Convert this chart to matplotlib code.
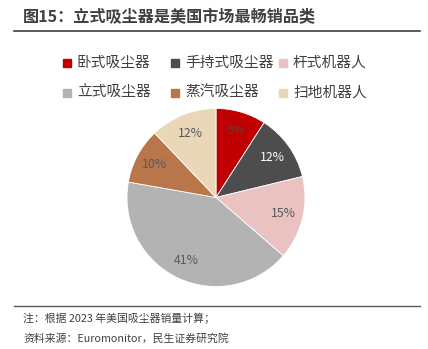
import matplotlib.pyplot as plt
from matplotlib.patches import Rectangle
from matplotlib.lines import Line2D
import numpy as np

plt.rcParams['font.family'] = ['Noto Sans CJK SC', 'DejaVu Sans']

labels = ["卧式吸尘器", "手持式吸尘器", "杆式机器人", "立式吸尘器", "蒸汽吸尘器", "扫地机器人"]
shares = [9, 12, 15, 41, 10, 12]
colors = ["#C00000", "#4D4D4F", "#EBC2C2", "#B3B3B3", "#B8764A", "#EAD7B7"]
pct_colors = ["#6A3A3A", "#FFFFFF", "#595959", "#595959", "#595959", "#595959"]

W, H = 428, 349
fig = plt.figure(figsize=(W / 100, H / 100), dpi=100)

def fx(px):
    return px / W

def fy(py):
    return 1 - py / H

# title and rules
fig.text(fx(23), fy(17), "图15：立式吸尘器是美国市场最畅销品类", fontsize=11.6,
         fontweight="bold", color="#404040", va="center", ha="left")
fig.add_artist(Line2D([fx(14), fx(420)], [fy(31), fy(31)], color="#404040", lw=1.2))
fig.add_artist(Line2D([fx(14), fx(420)], [fy(306), fy(306)], color="#595959", lw=1.0))

# footnotes
fig.text(fx(23), fy(318), "注：根据 2023 年美国吸尘器销量计算；", fontsize=7.8,
         color="#404040", va="center", ha="left")
fig.text(fx(23), fy(338), "资料来源：Euromonitor，民生证券研究院", fontsize=7.8,
         color="#404040", va="center", ha="left")

# legend, two rows of three
leg_x = [67, 175, 283]
leg_y = [63, 93]
for i, (lab, c) in enumerate(zip(labels, colors)):
    x = leg_x[i % 3]
    y = leg_y[i // 3]
    fig.add_artist(Rectangle((fx(x - 4), fy(y + 4)), 8 / W, 8 / H, color=c,
                             transform=fig.transFigure))
    fig.text(fx(x + 10), fy(y), lab, fontsize=10.6, color="#404040",
             va="center", ha="left")

# pie
cx, cy, r = 216, 197.5, 89
ax = fig.add_axes([fx(cx - r), fy(cy + r), 2 * r / W, 2 * r / H])
ax.pie(shares, colors=colors, startangle=90, counterclock=False,
       radius=1, wedgeprops=dict(edgecolor="white", linewidth=0.6))
total = sum(shares)
ang = 90.0
for s, tc in zip(shares, pct_colors):
    mid = ang - s / total * 360 / 2
    ang -= s / total * 360
    rr = 0.78
    ax.text(rr * np.cos(np.radians(mid)), rr * np.sin(np.radians(mid)), f"{s}%",
            ha="center", va="center", fontsize=8.8, color=tc)
ax.set_xlim(-1, 1)
ax.set_ylim(-1, 1)
ax.set_aspect("equal")
ax.axis("off")

fig.savefig("out.png", dpi=100)
